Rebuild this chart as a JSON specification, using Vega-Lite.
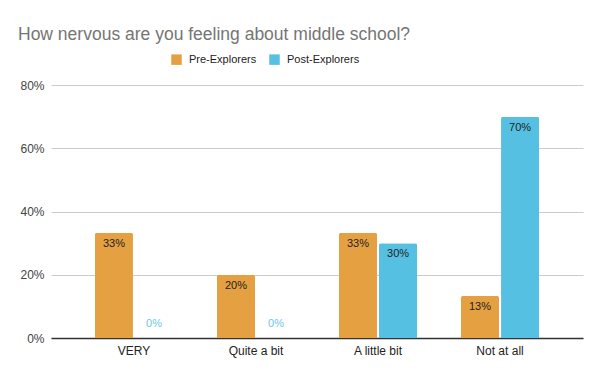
{
  "$schema": "https://vega.github.io/schema/vega-lite/v6.json",
  "width": 532,
  "height": 253,
  "autosize": {"type": "none"},
  "padding": {"left": 51, "top": 85, "right": 17, "bottom": 38},
  "background": "white",
  "title": {
    "text": "How nervous are you feeling about middle school?",
    "anchor": "start",
    "frame": "group",
    "dx": -33,
    "offset": 11,
    "font": "Liberation Sans",
    "fontSize": 17.5,
    "fontWeight": "normal",
    "color": "#757575"
  },
  "config": {
    "view": {"stroke": null},
    "font": "Liberation Sans"
  },
  "data": {
    "values": [
      {"answer": "VERY", "group": "Pre-Explorers", "value": 0.333},
      {"answer": "VERY", "group": "Post-Explorers", "value": 0},
      {"answer": "Quite a bit", "group": "Pre-Explorers", "value": 0.2},
      {"answer": "Quite a bit", "group": "Post-Explorers", "value": 0},
      {"answer": "A little bit", "group": "Pre-Explorers", "value": 0.333},
      {"answer": "A little bit", "group": "Post-Explorers", "value": 0.3},
      {"answer": "Not at all", "group": "Pre-Explorers", "value": 0.133},
      {"answer": "Not at all", "group": "Post-Explorers", "value": 0.7}
    ]
  },
  "encoding": {
    "x": {
      "field": "answer",
      "type": "nominal",
      "sort": ["VERY", "Quite a bit", "A little bit", "Not at all"],
      "scale": {"paddingInner": 0.36, "paddingOuter": 0.36},
      "axis": {
        "title": null,
        "labelAngle": 0,
        "labelFontSize": 12,
        "labelColor": "#222222",
        "labelPadding": 7,
        "ticks": false,
        "domainColor": "#333333",
        "domainWidth": 1.5
      }
    },
    "xOffset": {
      "field": "group",
      "type": "nominal",
      "sort": ["Pre-Explorers", "Post-Explorers"],
      "scale": {"paddingInner": 0.05}
    },
    "y": {
      "field": "value",
      "type": "quantitative",
      "scale": {"domain": [0, 0.8]},
      "axis": {
        "title": null,
        "format": ".0%",
        "values": [0, 0.2, 0.4, 0.6, 0.8],
        "labelFontSize": 12,
        "labelColor": "#444444",
        "labelPadding": 7,
        "ticks": false,
        "domain": false,
        "gridColor": "#cccccc"
      }
    }
  },
  "layer": [
    {
      "mark": {"type": "bar", "cornerRadiusTopLeft": 2, "cornerRadiusTopRight": 2},
      "encoding": {
        "color": {
          "field": "group",
          "type": "nominal",
          "sort": ["Pre-Explorers", "Post-Explorers"],
          "scale": {"domain": ["Pre-Explorers", "Post-Explorers"], "range": ["#E5A041", "#55C0E2"]},
          "legend": {
            "title": null,
            "orient": "none",
            "legendX": 120,
            "legendY": -31,
            "direction": "horizontal",
            "symbolType": "square",
            "symbolSize": 110,
            "symbolStrokeWidth": 0,
            "labelFont": "Liberation Sans",
            "labelFontSize": 11,
            "labelColor": "#222222",
            "labelOffset": 7,
            "columnPadding": 12
          }
        }
      }
    },
    {
      "transform": [{"filter": "datum.value > 0"}],
      "mark": {"type": "text", "baseline": "top", "dy": 5, "fontSize": 11, "color": "#222222"},
      "encoding": {
        "text": {"field": "value", "type": "quantitative", "format": ".0%"}
      }
    },
    {
      "transform": [{"filter": "datum.value == 0"}],
      "mark": {"type": "text", "baseline": "bottom", "dy": -9, "fontSize": 11, "color": "#6CC8E8"},
      "encoding": {
        "text": {"field": "value", "type": "quantitative", "format": ".0%"}
      }
    }
  ]
}
